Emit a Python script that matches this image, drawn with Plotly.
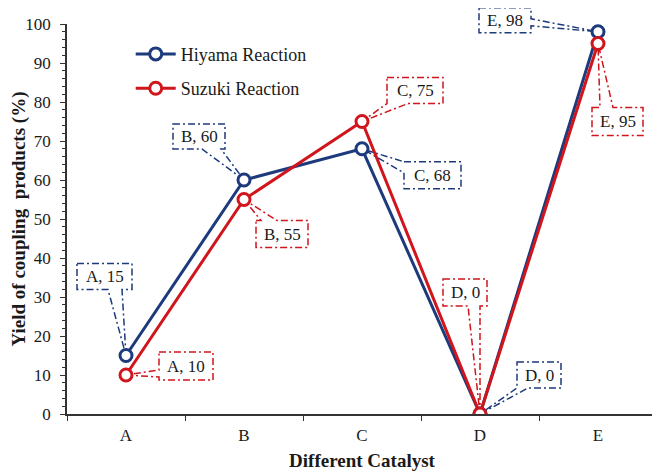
"""Yield of coupling products for the Hiyama and Suzuki reactions by catalyst."""

import plotly.graph_objects as go

# Data
CATALYSTS = ["A", "B", "C", "D", "E"]
HIYAMA = [15, 60, 68, 0, 98]
SUZUKI = [10, 55, 75, 0, 95]
Y_MAX = 100

COLOR_HIYAMA = "#1c3a7c"
COLOR_SUZUKI = "#d0151c"
FONT = "Liberation Serif, Times New Roman, serif"

# Callout boxes, pixel offsets from the point (y up):
# (left, right, top, bottom, wedge edge, wedge base a, wedge base b)
HIYAMA_CALLOUTS = [
    (-49, 6, 92, 66, "bottom", -18, -4),
    (-71, -19, 56, 31, "bottom", -42, -23),
    (42, 99, -13, -40, "left", -13, -24),
    (37, 81, 52, 26, "bottom", 37, 48),
    (-119, -67, 24, -1, "right", 13, 6),
]
SUZUKI_CALLOUTS = [
    (33, 87, 23, -5, "left", 5, -2),
    (12, 64, -21, -48, "top", 17, 33),
    (25, 81, 44, 18, "bottom", 25, 46),
    (-37, 7, 135, 108, "bottom", -12, 0),
    (-6, 45, -64, -92, "top", 2, 15),
]


def _callout_path(l, r, t, b, edge, a, c):
    """Rectangle outline with a pointer wedge to (0, 0)."""
    if edge == "bottom":
        pts = [(l, t), (r, t), (r, b), (max(a, c), b), (0, 0), (min(a, c), b), (l, b)]
    elif edge == "top":
        pts = [(l, t), (min(a, c), t), (0, 0), (max(a, c), t), (r, t), (r, b), (l, b)]
    elif edge == "left":
        pts = [(l, t), (r, t), (r, b), (l, b), (l, min(a, c)), (0, 0), (l, max(a, c))]
    else:
        pts = [(l, t), (r, t), (r, max(a, c)), (0, 0), (r, min(a, c)), (r, b), (l, b)]
    return "M " + " L ".join(f"{x},{y}" for x, y in pts) + " Z"


def add_callouts(fig, values, callouts, color):
    n = len(CATALYSTS)
    for i, (cat, val, co) in enumerate(zip(CATALYSTS, values, callouts)):
        l, r, t, b, edge, a, c = co
        # paper refs so the boxes are not clipped at the top of the plot
        fig.add_shape(
            type="path",
            xref="paper",
            yref="paper",
            xsizemode="pixel",
            ysizemode="pixel",
            xanchor=(i + 0.5) / n,
            yanchor=val / Y_MAX,
            path=_callout_path(l, r, t, b, edge, a, c),
            line=dict(color=color, width=1.5, dash="7px,3px,2px,3px"),
            layer="below",
        )
        fig.add_annotation(
            x=cat,
            y=val,
            text=f"{cat}, {val}",
            showarrow=False,
            xshift=(l + r) / 2,
            yshift=(t + b) / 2,
            font=dict(family=FONT, size=17, color="#1a1a1a"),
        )


fig = go.Figure()

fig.add_trace(
    go.Scatter(
        x=CATALYSTS,
        y=HIYAMA,
        mode="lines+markers",
        name="Hiyama Reaction",
        legendgroup="hiyama",
        line=dict(color=COLOR_HIYAMA, width=3),
        marker=dict(symbol="circle", size=12, color="white", line=dict(color=COLOR_HIYAMA, width=3)),
    )
)
fig.add_trace(
    go.Scatter(
        x=CATALYSTS,
        y=SUZUKI,
        mode="lines+markers",
        name="Suzuki Reaction",
        legendgroup="suzuki",
        line=dict(color=COLOR_SUZUKI, width=3),
        marker=dict(symbol="circle", size=12, color="white", line=dict(color=COLOR_SUZUKI, width=3)),
    )
)

add_callouts(fig, HIYAMA, HIYAMA_CALLOUTS, COLOR_HIYAMA)
add_callouts(fig, SUZUKI, SUZUKI_CALLOUTS, COLOR_SUZUKI)

# the page body has an 8px margin, so the figure is 8px smaller each way
fig.update_layout(
    width=652,
    height=466,
    margin=dict(l=59, r=3, t=16, b=60, autoexpand=False),
    plot_bgcolor="white",
    paper_bgcolor="white",
    font=dict(family=FONT, size=17, color="#1a1a1a"),
    showlegend=True,
    legend=dict(
        x=0.108,
        y=0.97,
        xanchor="left",
        yanchor="top",
        bgcolor="rgba(0,0,0,0)",
        font=dict(family=FONT, size=18, color="#1a1a1a"),
        tracegroupgap=8,
        itemwidth=40,
    ),
    xaxis=dict(
        title=dict(text="<b>Different Catalyst</b>", font=dict(size=19), standoff=10),
        type="category",
        range=[-0.5, 4.5],
        tickson="boundaries",
        ticks="outside",
        ticklen=5,
        tickwidth=1.2,
        tickcolor="#333",
        ticklabelstandoff=5,
        showline=True,
        linecolor="#333",
        linewidth=1.5,
        showgrid=False,
        zeroline=False,
    ),
    yaxis=dict(
        title=dict(text="<b>Yield of coupling\u00a0 products (%)</b>", font=dict(size=19), standoff=12),
        range=[0, Y_MAX],
        dtick=10,
        ticks="outside",
        ticklen=5,
        tickwidth=1.2,
        tickcolor="#333",
        ticklabelstandoff=6,
        minor=dict(dtick=2, ticks="outside", ticklen=3, tickcolor="#333", tickwidth=1),
        showline=True,
        linecolor="#333",
        linewidth=1.5,
        showgrid=False,
        zeroline=False,
    ),
)

fig.write_html("out.html")
